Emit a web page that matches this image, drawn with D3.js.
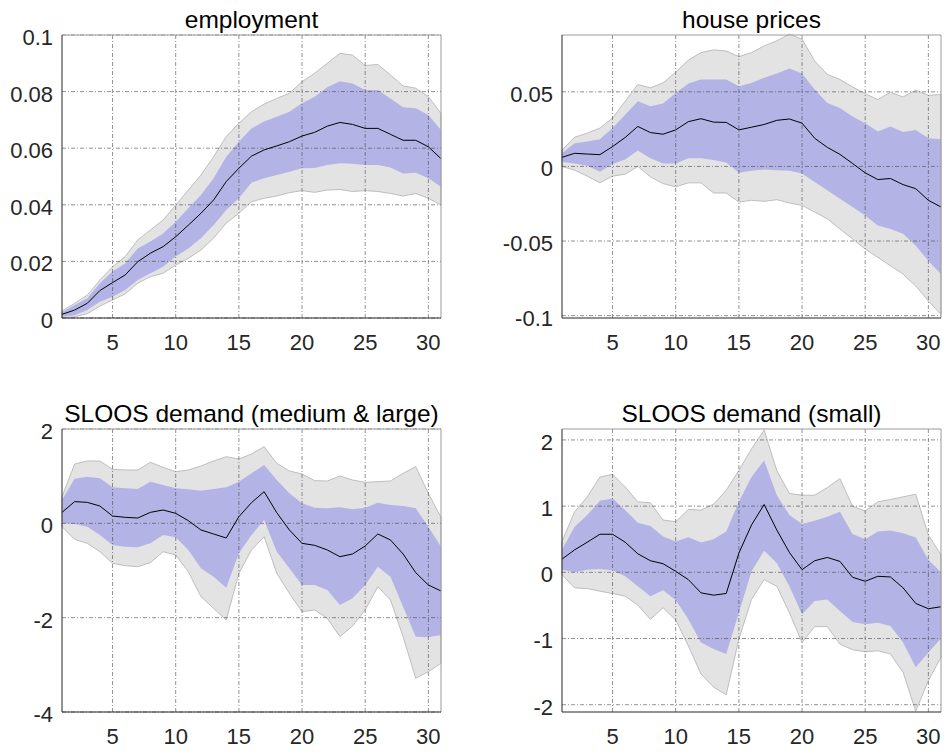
<!DOCTYPE html>
<html>
<head>
<meta charset="utf-8">
<script src="https://cdn.jsdelivr.net/npm/d3@7"></script>
<style>
  body { margin: 0; background: #fff; }
  text { font-family: "Liberation Sans", Arial, sans-serif; }
</style>
</head>
<body>
<svg id="chart" width="944" height="753"></svg>
<script>
// horizons 1..31
var horizons = d3.range(1, 32);
var xTicks = [5, 10, 15, 20, 25, 30];

// employment
var empMed = [0.0013,0.0028,0.0052,0.0097,0.0125,0.0152,0.0199,0.0229,0.0252,0.0287,0.0328,0.037,0.0417,0.0482,0.0529,0.0572,0.0594,0.0608,0.0623,0.0643,0.0656,0.0678,0.0691,0.0684,0.067,0.067,0.0649,0.0628,0.0628,0.0605,0.0563];
var empHi68 = [0.002,0.0046,0.007,0.0123,0.0164,0.0193,0.0246,0.027,0.0299,0.034,0.0388,0.0435,0.0494,0.057,0.0623,0.067,0.0694,0.0711,0.0729,0.0759,0.0782,0.0815,0.0837,0.0829,0.0806,0.0806,0.0776,0.0745,0.0741,0.0717,0.0664];
var empLo68 = [0.0004,0.001,0.0028,0.0057,0.0075,0.0099,0.0134,0.0158,0.0181,0.0217,0.0246,0.0282,0.0329,0.0382,0.0423,0.0478,0.0494,0.0505,0.0517,0.0529,0.053,0.0541,0.0547,0.0545,0.0541,0.0541,0.0532,0.0511,0.0513,0.0494,0.0464];
var empHi90 = [0.0025,0.0052,0.0081,0.0134,0.0181,0.0217,0.0276,0.0311,0.0346,0.0399,0.0452,0.0505,0.057,0.0641,0.0688,0.0729,0.0756,0.0776,0.0794,0.0835,0.0865,0.09,0.0935,0.0929,0.0892,0.0896,0.0859,0.082,0.0812,0.0782,0.0723];
var empLo90 = [0.0,0.0004,0.0015,0.0042,0.0064,0.0085,0.0123,0.0146,0.0158,0.0187,0.0211,0.024,0.0282,0.0335,0.037,0.0411,0.0423,0.0431,0.0443,0.045,0.0444,0.0452,0.0454,0.0447,0.045,0.0447,0.044,0.0431,0.044,0.0423,0.0399];

// house prices
var hpMed = [0.0061,0.0088,0.0083,0.0079,0.0133,0.0194,0.0268,0.0227,0.0216,0.0245,0.03,0.032,0.0297,0.0295,0.0245,0.0263,0.0281,0.0309,0.0318,0.029,0.0189,0.0128,0.0081,0.002,-0.0043,-0.0088,-0.0081,-0.0122,-0.0149,-0.0227,-0.0272];
var hpHi68 = [0.0088,0.0155,0.0167,0.0182,0.0257,0.0347,0.0437,0.0403,0.0421,0.0493,0.0556,0.0583,0.0583,0.0583,0.0538,0.056,0.0594,0.0623,0.0657,0.0623,0.0515,0.0425,0.0392,0.0335,0.029,0.0234,0.0268,0.023,0.0245,0.0189,0.0182];
var hpLo68 = [0.0032,0.002,0.0005,-0.0036,0.0016,0.0047,0.0106,0.0054,0.002,0.002,0.0054,0.0054,0.0043,0.0027,-0.0043,-0.0029,-0.002,-0.0025,-0.0029,-0.0047,-0.0104,-0.016,-0.0216,-0.0272,-0.0329,-0.0396,-0.0419,-0.0452,-0.0531,-0.0632,-0.0722];
var hpHi90 = [0.011,0.0196,0.0223,0.0257,0.0324,0.0437,0.0549,0.0527,0.056,0.0632,0.0713,0.0763,0.0781,0.0774,0.0736,0.0763,0.0808,0.0842,0.0887,0.0853,0.0707,0.0617,0.0583,0.0533,0.0488,0.0448,0.0497,0.0466,0.0511,0.0477,0.0482];
var hpLo90 = [0.0,-0.0025,-0.0065,-0.011,-0.0065,-0.0052,0.0,-0.007,-0.0115,-0.0137,-0.011,-0.011,-0.0178,-0.0178,-0.0239,-0.0227,-0.0234,-0.0223,-0.0245,-0.0261,-0.0306,-0.0351,-0.0419,-0.0486,-0.0554,-0.061,-0.0666,-0.0722,-0.0801,-0.0902,-0.0992];

// SLOOS demand (medium & large)
var mlMed = [0.233,0.46,0.445,0.367,0.155,0.127,0.113,0.233,0.283,0.212,0.057,-0.141,-0.226,-0.311,0.141,0.438,0.671,0.226,-0.141,-0.424,-0.466,-0.565,-0.707,-0.65,-0.48,-0.226,-0.353,-0.65,-1.046,-1.307,-1.435];
var mlHi68 = [0.495,0.947,0.989,0.954,0.763,0.742,0.728,0.883,0.813,0.742,0.721,0.693,0.728,0.763,0.883,1.06,1.237,0.919,0.636,0.424,0.332,0.318,0.339,0.297,0.332,0.438,0.389,0.367,0.318,-0.071,-0.495];
var mlLo68 = [0.0,-0.014,-0.071,-0.247,-0.459,-0.495,-0.509,-0.424,-0.247,-0.297,-0.565,-0.954,-1.131,-1.364,-0.636,-0.247,0.071,-0.601,-0.954,-1.307,-1.307,-1.413,-1.731,-1.59,-1.307,-0.919,-1.131,-1.767,-2.403,-2.417,-2.367];
var mlHi90 = [0.565,1.258,1.322,1.322,1.145,1.131,1.131,1.293,1.187,1.095,1.131,1.216,1.322,1.413,1.364,1.47,1.625,1.272,1.11,1.046,0.905,0.898,1.004,0.919,0.869,0.883,0.898,1.06,1.201,0.636,0.127];
var mlLo90 = [-0.071,-0.339,-0.424,-0.601,-0.848,-0.898,-0.919,-0.834,-0.601,-0.671,-1.025,-1.555,-1.802,-2.049,-1.06,-0.565,-0.283,-1.06,-1.484,-1.873,-1.837,-2.014,-2.403,-2.177,-1.837,-1.343,-1.625,-2.403,-3.286,-3.145,-2.968];

// SLOOS demand (small)
var smMed = [0.2,0.34,0.455,0.575,0.575,0.455,0.28,0.175,0.13,0.015,-0.11,-0.31,-0.345,-0.32,0.29,0.715,1.025,0.64,0.3,0.04,0.175,0.225,0.165,-0.075,-0.135,-0.06,-0.07,-0.235,-0.47,-0.55,-0.52];
var smHi68 = [0.34,0.69,0.865,1.08,1.115,0.94,0.75,0.7,0.54,0.465,0.53,0.45,0.5,0.615,1.065,1.44,1.69,1.165,0.865,0.73,0.78,0.84,0.915,0.58,0.5,0.615,0.63,0.59,0.525,0.19,0.0];
var smLo68 = [0.04,0.0,0.04,0.05,0.03,-0.06,-0.21,-0.36,-0.27,-0.42,-0.71,-1.06,-1.16,-1.235,-0.61,0.015,0.325,0.14,-0.21,-0.635,-0.435,-0.41,-0.585,-0.75,-0.785,-0.76,-0.81,-1.06,-1.435,-1.21,-1.0];
var smHi90 = [0.465,0.915,1.14,1.44,1.48,1.29,1.065,1.05,0.79,0.765,0.95,0.94,1.03,1.24,1.54,1.865,2.15,1.54,1.19,1.165,1.165,1.28,1.415,1.0,0.925,1.065,1.1,1.14,1.18,0.565,0.265];
var smLo90 = [-0.035,-0.235,-0.245,-0.285,-0.32,-0.36,-0.495,-0.71,-0.535,-0.72,-1.11,-1.535,-1.735,-1.85,-1.01,-0.41,-0.11,-0.21,-0.61,-1.06,-0.82,-0.82,-1.085,-1.17,-1.2,-1.185,-1.235,-1.51,-2.1,-1.635,-1.285];

var titles = ["employment", "house prices", "SLOOS demand (medium & large)", "SLOOS demand (small)"];
var yTickVals = [[0, 0.02, 0.04, 0.06, 0.08, 0.1], [-0.1, -0.05, 0, 0.05], [-4, -2, 0, 2], [-2, -1, 0, 1, 2]];
var yTickLabels = [["0", "0.02", "0.04", "0.06", "0.08", "0.1"], ["-0.1", "-0.05", "0", "0.05"], ["-4", "-2", "0", "2"], ["-2", "-1", "0", "1", "2"]];
var yLimits = [[0, 0.1], [-0.1016, 0.0881], [-4, 2], [-2.11, 2.165]];

var series = [
  {med: empMed, hi68: empHi68, lo68: empLo68, hi90: empHi90, lo90: empLo90},
  {med: hpMed, hi68: hpHi68, lo68: hpLo68, hi90: hpHi90, lo90: hpLo90},
  {med: mlMed, hi68: mlHi68, lo68: mlLo68, hi90: mlHi90, lo90: mlLo90},
  {med: smMed, hi68: smHi68, lo68: smLo68, hi90: smHi90, lo90: smLo90}
];

// panel boxes (left, top)
var boxes = [[62, 35], [562, 35], [62, 429], [562, 429]];
var W = 379, H = 283;

var svg = d3.select("#chart");

function drawPanel(k) {
  var left = boxes[k][0], top = boxes[k][1];
  var s = series[k];
  var g = svg.append("g").attr("transform", "translate(" + left + "," + top + ")");

  var x = d3.scaleLinear().domain([1, 31]).range([0, W]);
  var y = d3.scaleLinear().domain(yLimits[k]).range([H, 0]);

  var band = function(hi, lo) {
    return d3.area()
      .x((d, i) => x(horizons[i]))
      .y0((d, i) => y(lo[i]))
      .y1((d, i) => y(hi[i]))(horizons);
  };

  g.append("path").attr("d", band(s.hi90, s.lo90))
    .attr("fill", "#e3e3e3").attr("stroke", "#b8b8b8").attr("stroke-width", 0.9);
  g.append("path").attr("d", band(s.hi68, s.lo68))
    .attr("fill", "#b3b3e6");

  // grid on top of bands
  g.selectAll(".gx").data(xTicks).enter().append("line")
    .attr("x1", d => x(d)).attr("x2", d => x(d))
    .attr("y1", 0).attr("y2", H)
    .attr("stroke", "#4a4a4a").attr("stroke-opacity", 0.8)
    .attr("stroke-width", 0.75).attr("stroke-dasharray", "4,2,1,2");
  g.selectAll(".gy").data(yTickVals[k]).enter().append("line")
    .attr("x1", 0).attr("x2", W)
    .attr("y1", d => y(d)).attr("y2", d => y(d))
    .attr("stroke", "#4a4a4a").attr("stroke-opacity", 0.8)
    .attr("stroke-width", 0.75).attr("stroke-dasharray", "4,2,1,2");

  var line = d3.line().x((d, i) => x(horizons[i])).y(d => y(d));
  g.append("path").attr("d", line(s.med))
    .attr("fill", "none").attr("stroke", "#000").attr("stroke-width", 1);

  // box
  g.append("line").attr("x1", 0).attr("x2", W).attr("y1", 0).attr("y2", 0).attr("stroke", "#9a9a9a");
  g.append("line").attr("x1", W).attr("x2", W).attr("y1", 0).attr("y2", H).attr("stroke", "#9a9a9a");
  g.append("line").attr("x1", 0).attr("x2", 0).attr("y1", 0).attr("y2", H).attr("stroke", "#262626");
  g.append("line").attr("x1", 0).attr("x2", W).attr("y1", H).attr("y2", H).attr("stroke", "#262626");

  // tick labels
  g.selectAll(".xl").data(xTicks).enter().append("text")
    .attr("x", d => x(d)).attr("y", H + 32)
    .attr("text-anchor", "middle").attr("font-size", 22).attr("fill", "#262626")
    .text(d => d);
  g.selectAll(".yl").data(yTickVals[k]).enter().append("text")
    .attr("x", -9).attr("y", d => y(d)).attr("dy", "0.45em")
    .attr("text-anchor", "end").attr("font-size", 22).attr("fill", "#262626")
    .text((d, i) => yTickLabels[k][i]);

  g.append("text").attr("x", W / 2).attr("y", -7)
    .attr("text-anchor", "middle").attr("font-size", 24.5).attr("fill", "#000")
    .text(titles[k]);
}

for (var k = 0; k < 4; k++) drawPanel(k);
</script>
</body>
</html>
